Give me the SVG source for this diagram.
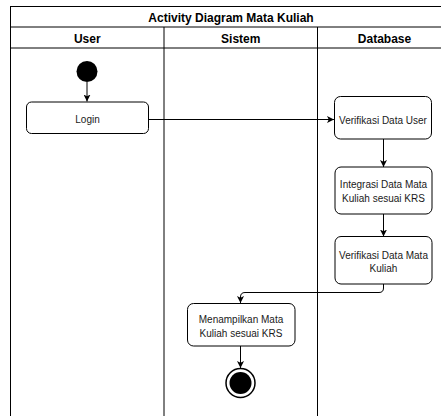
<svg xmlns="http://www.w3.org/2000/svg" width="441" height="416" viewBox="0 0 441 416">
  <style>
    .pool { fill: #ffffff; stroke: #000000; stroke-width: 1; }
    .sep { stroke: #000000; stroke-width: 1; fill: none; }
    .title { font-family: "Liberation Sans", Arial, Helvetica, sans-serif; font-size: 12px; font-weight: bold; fill: #000000; text-anchor: middle; }
    .act { fill: #ffffff; stroke: #000000; stroke-width: 1; }
    .label { font-family: "Liberation Sans", Arial, Helvetica, sans-serif; font-size: 10px; fill: #1a1a1a; text-anchor: middle; }
    .edge { fill: none; stroke: #000000; stroke-width: 1; }
  </style>
  <defs>
    <marker id="arrow" viewBox="0 0 10 10" refX="10" refY="5" markerWidth="7" markerHeight="7" markerUnits="userSpaceOnUse" orient="auto">
      <path d="M0,0 L10,5 L0,10 L2.5,5 Z" fill="#000000"/>
    </marker>
  </defs>

  <!-- swimlane pool with three lanes -->
  <g id="pool">
    <rect class="pool" x="10.5" y="6.5" width="441" height="420"/>
    <line class="sep" x1="10.5" y1="27" x2="451.5" y2="27"/>
    <line class="sep" x1="10.5" y1="48" x2="451.5" y2="48"/>
    <line class="sep" x1="164" y1="27" x2="164" y2="426"/>
    <line class="sep" x1="317.5" y1="27" x2="317.5" y2="426"/>
    <text class="title" x="231" y="21.5">Activity Diagram Mata Kuliah</text>
    <text class="title" x="87.3" y="43">User</text>
    <text class="title" x="240.8" y="43">Sistem</text>
    <text class="title" x="384.5" y="43">Database</text>
  </g>

  <!-- flow connectors -->
  <g id="connectors">
    <line class="edge" x1="87" y1="82" x2="87" y2="101.5" marker-end="url(#arrow)"/>
    <line class="edge" x1="148" y1="119.5" x2="334" y2="119.5" marker-end="url(#arrow)"/>
    <line class="edge" x1="383.5" y1="139" x2="383.5" y2="167" marker-end="url(#arrow)"/>
    <line class="edge" x1="383.5" y1="214" x2="383.5" y2="236.5" marker-end="url(#arrow)"/>
    <path class="edge" d="M383.5,284 V288 Q383.5,292.5 379,292.5 H245 Q240.5,292.5 240.5,297 V303" marker-end="url(#arrow)"/>
    <line class="edge" x1="240.5" y1="346" x2="240.5" y2="368" marker-end="url(#arrow)"/>
  </g>

  <g id="start">
    <circle cx="87" cy="71.5" r="10.5" fill="#000000"/>
  </g>

  <g id="login">
    <rect class="act" x="26.5" y="102" width="122" height="31.5" rx="5" ry="5"/>
    <text class="label" x="87.5" y="122.5">Login</text>
  </g>

  <g id="verifikasi-user">
    <rect class="act" x="334.5" y="96.5" width="97" height="42.5" rx="6" ry="6"/>
    <text class="label" x="383" y="124">Verifikasi Data User</text>
  </g>

  <g id="integrasi">
    <rect class="act" x="335" y="167" width="97" height="47" rx="6" ry="6"/>
    <text class="label" x="383.5" y="188">Integrasi Data Mata</text>
    <text class="label" x="383.5" y="201.5">Kuliah sesuai KRS</text>
  </g>

  <g id="verifikasi-mata-kuliah">
    <rect class="act" x="335" y="236.5" width="97" height="47.5" rx="6" ry="6"/>
    <text class="label" x="383.5" y="258.5">Verifikasi Data Mata</text>
    <text class="label" x="383.5" y="272">Kuliah</text>
  </g>

  <g id="menampilkan">
    <rect class="act" x="187.5" y="303.5" width="107.5" height="42.5" rx="6" ry="6"/>
    <text class="label" x="241" y="322.5">Menampilkan Mata</text>
    <text class="label" x="241" y="336.5">Kuliah sesuai KRS</text>
  </g>

  <g id="end">
    <circle cx="240.5" cy="383" r="14.5" fill="#ffffff" stroke="#000000" stroke-width="1.5"/>
    <circle cx="240.5" cy="383" r="11" fill="#000000"/>
  </g>
</svg>
